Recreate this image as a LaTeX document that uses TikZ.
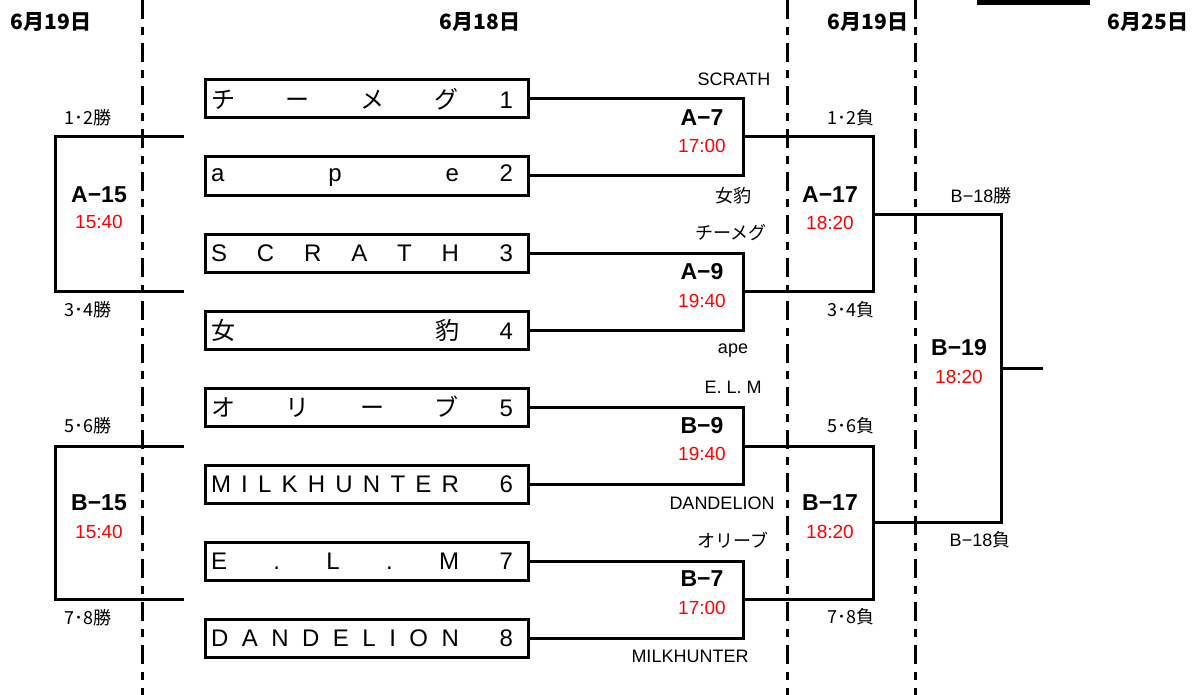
\documentclass[tikz,border=0pt]{standalone}
\usepackage{fontspec}
\setmainfont{Liberation Sans}
\newfontfamily\jp{Noto Sans CJK JP}
\tikzset{
  sep/.style={line width=3pt, dash pattern=on 19pt off 8pt on 8pt off 8pt},
  br/.style={line width=3pt},
  teambox/.style={draw, line width=3pt, minimum width=323pt, minimum height=38pt, inner sep=0pt},
  hdr/.style={font=\jp\bfseries\fontsize{21}{24}\selectfont},
  lbl/.style={font=\fontsize{18}{21}\selectfont, inner sep=0pt},
  code/.style={font=\bfseries\fontsize{23}{26}\selectfont, inner sep=0pt},
  tm/.style={text=red, font=\fontsize{19}{22}\selectfont, inner sep=0pt},
  tt/.style={font=\fontsize{24}{28}\selectfont}
}
\newcommand{\tname}[2]{\hbox to 323pt{\hspace{6pt}\makebox[248pt][s]{#1}\hfill #2\hspace{15pt}}}
\begin{document}
\begin{tikzpicture}[x=1pt,y=-1pt]
\useasboundingbox (0,0) rectangle (1198,695);
% column separators
\draw[sep] (142,0) -- (142,695);
\draw[sep] (787,0) -- (787,695);
\draw[sep] (915,0) -- (915,695);
\fill (977,0) rectangle (1090,5);
% headers
\node[hdr] (h1) at (51,22) {6月19日};
\node[hdr] (h2) at (480,22) {6月18日};
\node[hdr] (h3) at (868,22) {6月19日};
\node[hdr] (h4) at (1148,22) {6月25日};
% team boxes
\node[teambox,tt] (t1) at (366.5,99) {\tname{\jp チ\hfill ー\hfill メ\hfill グ}{1}};
\node[teambox,tt] (t2) at (366.5,176) {\tname{a\hfill p\hfill e}{2}};
\node[teambox,tt] (t3) at (366.5,253) {\tname{S\hfill C\hfill R\hfill A\hfill T\hfill H}{3}};
\node[teambox,tt] (t4) at (366.5,330) {\tname{\jp 女\hfill 豹}{4}};
\node[teambox,tt] (t5) at (366.5,407) {\tname{\jp オ\hfill リ\hfill ー\hfill ブ}{5}};
\node[teambox,tt] (t6) at (366.5,484) {\tname{M\hfill I\hfill L\hfill K\hfill H\hfill U\hfill N\hfill T\hfill E\hfill R}{6}};
\node[teambox,tt] (t7) at (366.5,561) {\tname{E\hfill .\hfill L\hfill .\hfill M}{7}};
\node[teambox,tt] (t8) at (366.5,638) {\tname{D\hfill A\hfill N\hfill D\hfill E\hfill L\hfill I\hfill O\hfill N}{8}};
% bracket junctions
\coordinate (a7) at (743,137);
\coordinate (a9) at (743,291);
\coordinate (b9) at (743,446);
\coordinate (b7) at (743,599);
\coordinate (a17) at (873,214);
\coordinate (b17) at (873,522);
\coordinate (b19) at (1001,368);
\coordinate (fin) at (1043,368);
\coordinate (a15t) at (184,137);
\coordinate (a15) at (55,214);
\coordinate (a15b) at (184,291);
\coordinate (b15t) at (184,446);
\coordinate (b15) at (55,522);
\coordinate (b15b) at (184,599);
% connectors
\draw[br] (t1.east) -| (a7) |- (t2.east);
\draw[br] (t3.east) -| (a9) |- (t4.east);
\draw[br] (t5.east) -| (b9) |- (t6.east);
\draw[br] (t7.east) -| (b7) |- (t8.east);
\draw[br] (a7) -| (a17) |- (a9);
\draw[br] (b9) -| (b17) |- (b7);
\draw[br] (a17) -| (b19) |- (b17);
\draw[br] (b19) -- (fin);
\draw[br] (a15t) -| (a15) |- (a15b);
\draw[br] (b15t) -| (b15) |- (b15b);
% left column labels
\node[lbl] (l12) at (88,118) {\jp 1･2勝};
\node[lbl] (l34) at (88,310) {\jp 3･4勝};
\node[lbl] (l56) at (88,426) {\jp 5･6勝};
\node[lbl] (l78) at (88,618) {\jp 7･8勝};
\node[code] (ca15) at (99,195) {A−15};
\node[tm] (ta15) at (99,222) {15:40};
\node[code] (cb15) at (99,503) {B−15};
\node[tm] (tb15) at (99,532) {15:40};
% first-round matches
\node[code] (ca7) at (702,118) {A−7};
\node[tm] (ta7) at (702,146) {17:00};
\node[code] (ca9) at (702,272) {A−9};
\node[tm] (ta9) at (702,301) {19:40};
\node[code] (cb9) at (702,426) {B−9};
\node[tm] (tb9) at (702,454) {19:40};
\node[code] (cb7) at (702,579) {B−7};
\node[tm] (tb7) at (702,608) {17:00};
% opponent notes
\node[lbl] (n1) at (734,79) {SCRATH};
\node[lbl] (n2) at (733,196) {\jp 女豹};
\node[lbl] (n3) at (731,233) {\jp チーメグ};
\node[lbl] (n4) at (733,351) {ape};
\node[lbl] (n5) at (733,387) {E.\ L.\ M};
\node[lbl] (n6) at (722,503) {DANDELION};
\node[lbl] (n7) at (733,540) {\jp オリーブ};
\node[lbl] (n8) at (690,656) {MILKHUNTER};
% second column
\node[lbl] (r12) at (851,118) {\jp 1･2負};
\node[lbl] (r34) at (851,310) {\jp 3･4負};
\node[lbl] (r56) at (851,426) {\jp 5･6負};
\node[lbl] (r78) at (851,617) {\jp 7･8負};
\node[code] (ca17) at (830,195) {A−17};
\node[tm] (ta17) at (830,223) {18:20};
\node[code] (cb17) at (830,503) {B−17};
\node[tm] (tb17) at (830,532) {18:20};
% final column
\node[lbl] (w18) at (981,196) {B−18{\jp 勝}};
\node[lbl] (d18) at (980,540) {B−18{\jp 負}};
\node[code] (cb19) at (959,348) {B−19};
\node[tm] (tb19) at (959,377) {18:20};
\end{tikzpicture}
\end{document}
